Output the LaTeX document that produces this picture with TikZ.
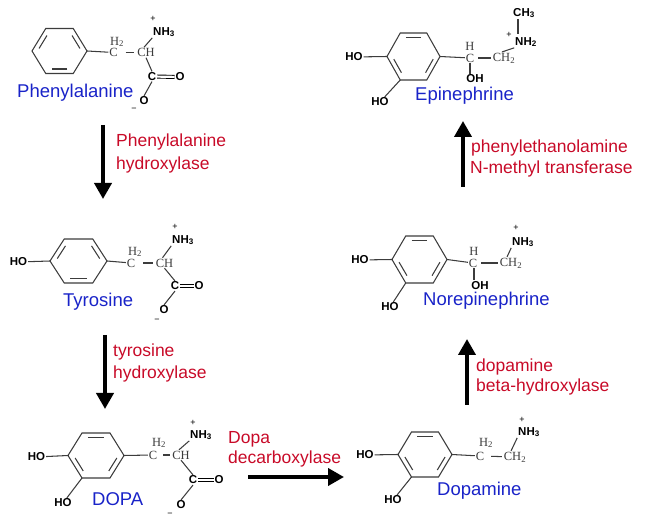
\documentclass[tikz,border=0pt]{standalone}
\usepackage{fontspec}
\setmainfont{Liberation Sans}
\newfontfamily\thinfont{Liberation Serif}
\usetikzlibrary{arrows.meta,calc}
\definecolor{chemblue}{RGB}{25,35,200}
\definecolor{chemred}{RGB}{200,10,40}
\definecolor{bondgray}{RGB}{60,60,60}
\newcommand\benzring[5]{%
  \begin{scope}[shift={(#2,#3)}]
    \coordinate (#1L) at (-#4,0);
    \coordinate (#1TL) at ({-#4/2},-#5);
    \coordinate (#1TR) at ({#4/2},-#5);
    \coordinate (#1R) at (#4,0);
    \coordinate (#1BR) at ({#4/2},#5);
    \coordinate (#1BL) at ({-#4/2},#5);
    \coordinate (#1c) at (0,0);
  \end{scope}
  \draw[bond] (#1L)--(#1TL)--(#1TR)--(#1R)--(#1BR)--(#1BL)--cycle;}
\newcommand\dbl[3]{%
  \coordinate (tmpP) at ($(#1c)!0.8!(#1#2)$);
  \coordinate (tmpQ) at ($(#1c)!0.8!(#1#3)$);
  \draw[bond] ($(tmpP)!0.14!(tmpQ)$) -- ($(tmpQ)!0.14!(tmpP)$);}
\begin{document}
\begin{tikzpicture}[x=1pt,y=-1pt,
  atom/.style={font=\fontsize{11.5}{13}\selectfont\bfseries, inner sep=0.8pt, text=black},
  thin/.style={font=\thinfont\fontsize{12.5}{13}\selectfont, inner sep=0.8pt, text=bondgray},
  chg/.style={font=\fontsize{9}{10}\selectfont, inner sep=0pt, text=black},
  mol/.style={font=\fontsize{18.5}{21}\selectfont, text=chemblue, inner sep=0pt, anchor=base west},
  enz/.style={font=\fontsize{17.5}{21}\selectfont, text=chemred, inner sep=0pt, anchor=base west},
  bond/.style={line width=1.05pt, draw=bondgray},
  dbond/.style={draw=black, line width=0.9pt, double, double distance=2.2pt},
  rxn/.style={line width=3.8pt, draw=black, -{Triangle[width=17pt,length=16pt]}}]
\useasboundingbox (0,0) rectangle (648,518);

% ---------- Phenylalanine ----------
\benzring{pr}{59.5}{51}{27.5}{22.5}
\dbl{pr}{L}{TL}\dbl{pr}{TR}{R}\dbl{pr}{BR}{BL}
\node[thin] (pC1) at (113.5,52.5) {C};
\node[thin] (pH2) at (117,42) {H\textsubscript{2}};
\node[thin] (pCH) at (146,52.5) {CH};
\node[atom] (pN) at (164,32) {NH\textsubscript{3}};
\node[chg] (pNp) at (153,19) {+};
\node[atom] (pCc) at (152,76.5) {C};
\node[atom] (pO2) at (180,77) {O};
\node[atom] (pO1) at (144,101) {O};
\node[chg] (pOm) at (134,110) {−};
\draw[bond] (prR) -- (pC1);
\draw[bond,shorten <=7pt,shorten >=2pt] (pC1) -- (pCH);
\draw[bond] ([xshift=-2pt]pCH.north) -- (pN.south west);
\draw[bond] (pCH.south) -- (pCc.north);
\draw[dbond] (pCc) -- (pO2);
\draw[bond] (pCc.south) -- (pO1.north);
\node[mol] (pname) at (17,98) {Phenylalanine};

% ---------- Tyrosine ----------
\benzring{tr}{78.5}{261}{28.5}{22}
\dbl{tr}{L}{TL}\dbl{tr}{TR}{R}\dbl{tr}{BR}{BL}
\node[atom] (tHO) at (18.5,262) {HO};
\node[thin] (tC1) at (131,263) {C};
\node[thin] (tH2) at (135,252) {H\textsubscript{2}};
\node[thin] (tCH) at (164.5,263) {CH};
\node[atom] (tN) at (183,240) {NH\textsubscript{3}};
\node[chg] (tNp) at (175,227) {+};
\node[atom] (tCc) at (175,286) {C};
\node[atom] (tO2) at (199,286) {O};
\node[atom] (tO1) at (164,310) {O};
\node[chg] (tOm) at (157,321) {−};
\draw[bond] (tHO) -- (trL);
\draw[bond] (trR) -- (tC1);
\draw[bond,shorten <=7pt,shorten >=2pt] (tC1) -- (tCH);
\draw[bond] ([xshift=-2pt]tCH.north) -- (tN.south west);
\draw[bond] (tCH.south) -- (tCc.north);
\draw[dbond] (tCc) -- (tO2);
\draw[bond] (tCc.south) -- (tO1.north);
\node[mol] (tname) at (63,307) {Tyrosine};

% ---------- DOPA ----------
\benzring{dr}{96}{455.5}{28}{22.5}
\dbl{dr}{TL}{TR}\dbl{dr}{R}{BR}\dbl{dr}{BL}{L}
\node[atom] (dHO1) at (36.5,457) {HO};
\node[atom] (dHO2) at (63,503) {HO};
\node[thin] (dC1) at (153,455) {C};
\node[thin] (dH2) at (159,443) {H\textsubscript{2}};
\node[thin] (dCH) at (181,455) {CH};
\node[atom] (dN) at (201,435) {NH\textsubscript{3}};
\node[chg] (dNp) at (193,423) {+};
\node[atom] (dCc) at (193,480) {C};
\node[atom] (dO2) at (219,480) {O};
\node[atom] (dO1) at (181,505) {O};
\node[chg] (dOm) at (170,515) {−};
\draw[bond] (dHO1) -- (drL);
\draw[bond] (drBL) -- (dHO2);
\draw[bond] (drR) -- (dC1);
\draw[bond,shorten <=5pt,shorten >=1.5pt] (dC1) -- (dCH);
\draw[bond] ([xshift=-2pt]dCH.north) -- (dN.south west);
\draw[bond] (dCH.south) -- (dCc.north);
\draw[dbond] (dCc) -- (dO2);
\draw[bond] (dCc.south) -- (dO1.north);
\node[mol] (dname) at (92,505) {DOPA};

% ---------- Dopamine ----------
\benzring{mr}{425}{454.5}{27}{22.5}
\dbl{mr}{TL}{TR}\dbl{mr}{R}{BR}\dbl{mr}{BL}{L}
\node[atom] (mHO1) at (365,455) {HO};
\node[atom] (mHO2) at (393,500) {HO};
\node[thin] (mC1) at (480,456) {C};
\node[thin] (mH2) at (486,443) {H\textsubscript{2}};
\node[thin] (mCH2) at (515,457) {CH\textsubscript{2}};
\node[atom] (mN) at (529,432) {NH\textsubscript{3}};
\node[chg] (mNp) at (522,420) {+};
\draw[bond] (mHO1) -- (mrL);
\draw[bond] (mrBL) -- (mHO2);
\draw[bond] (mrR) -- (mC1);
\draw[bond,shorten <=6pt,shorten >=1pt] (mC1) -- (mCH2);
\draw[bond] ([xshift=-4pt]mCH2.north) -- (mN.south west);
\node[mol] (mname) at (437,495) {Dopamine};

% ---------- Norepinephrine ----------
\benzring{nr}{419.5}{259.5}{27.5}{23.5}
\dbl{nr}{TL}{TR}\dbl{nr}{R}{BR}\dbl{nr}{BL}{L}
\node[atom] (nHO1) at (360,260) {HO};
\node[atom] (nHO2) at (390,307) {HO};
\node[thin] (nC) at (473,263) {C};
\node[thin] (nH) at (474,251) {H};
\node[atom] (nOH) at (480,285.5) {OH};
\node[thin] (nCH2) at (511,263) {CH\textsubscript{2}};
\node[atom] (nN) at (523,242) {NH\textsubscript{3}};
\node[chg] (nNp) at (516,228) {+};
\draw[bond] (nHO1) -- (nrL);
\draw[bond] (nrBL) -- (nHO2);
\draw[bond] (nrR) -- (nC);
\draw[bond,shorten <=3pt,shorten >=1pt] (nC) -- (nCH2);
\draw[bond] ([xshift=1pt]nC.south) -- ([xshift=1pt]nC.south |- nOH.north);
\draw[bond] ([xshift=-4pt]nCH2.north) -- (nN.south west);
\node[mol] (nname) at (423,306) {Norepinephrine};

% ---------- Epinephrine ----------
\benzring{er}{413.5}{56.5}{26.5}{23.5}
\dbl{er}{TL}{TR}\dbl{er}{R}{BR}\dbl{er}{BL}{L}
\node[atom] (eHO1) at (354,57) {HO};
\node[atom] (eHO2) at (380,102) {HO};
\node[thin] (eC) at (470,58) {C};
\node[thin] (eH) at (470,46) {H};
\node[atom] (eOH) at (475,79) {OH};
\node[thin] (eCH2) at (504,58) {CH\textsubscript{2}};
\node[atom] (eN) at (526,42) {NH\textsubscript{2}};
\node[chg] (eNp) at (509,35) {+};
\node[atom] (eCH3) at (524,13) {CH\textsubscript{3}};
\draw[bond] (eHO1) -- (erL);
\draw[bond] (erBL) -- (eHO2);
\draw[bond] (erR) -- (eC);
\draw[bond,shorten <=3pt,shorten >=1pt] (eC) -- (eCH2);
\draw[bond] (eC.south) -- (eC.south |- eOH.north);
\draw[bond] ([xshift=-2pt]eCH2.north) -- (eN.south west);
\draw[bond,shorten >=2pt] ([xshift=-6pt]eCH3.south) -- ([xshift=-6pt]eCH3.south |- eN.north);
\node[mol] (ename) at (415,101) {Epinephrine};

% ---------- Enzymes ----------
\node[enz] (e1a) at (116,147) {Phenylalanine};
\node[enz] (e1b) at (116,170) {hydroxylase};
\node[enz] (e2a) at (113,357) {tyrosine};
\node[enz] (e2b) at (113,379) {hydroxylase};
\node[enz] (e3a) at (228,443) {Dopa};
\node[enz] (e3b) at (228,463) {decarboxylase};
\node[enz] (e4a) at (476,372) {dopamine};
\node[enz] (e4b) at (476,392) {beta-hydroxylase};
\node[enz] (e5a) at (471,153) {phenylethanolamine};
\node[enz] (e5b) at (470,174) {N-methyl transferase};

% ---------- Reaction arrows ----------
\coordinate (a1s) at (103,125); \coordinate (a1e) at (103,199);
\coordinate (a2s) at (105,335); \coordinate (a2e) at (105,409);
\coordinate (a3s) at (248,477); \coordinate (a3e) at (344,477);
\coordinate (a4s) at (467,405); \coordinate (a4e) at (467,339);
\coordinate (a5s) at (463,187); \coordinate (a5e) at (463,121);
\draw[rxn] (a1s) -- (a1e);
\draw[rxn] (a2s) -- (a2e);
\draw[rxn] (a3s) -- (a3e);
\draw[rxn] (a4s) -- (a4e);
\draw[rxn] (a5s) -- (a5e);
\end{tikzpicture}
\end{document}
